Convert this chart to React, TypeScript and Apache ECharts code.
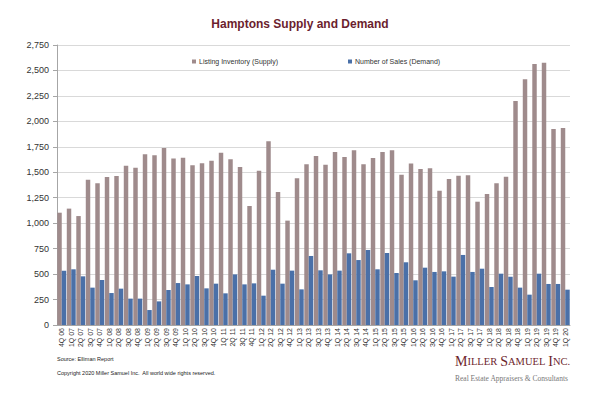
import React, { useEffect, useRef } from "react";
import * as echarts from "echarts";

const quarters = [
  "4Q 06", "1Q 07", "2Q 07", "3Q 07", "4Q 07", "1Q 08", "2Q 08", "3Q 08", "4Q 08",
  "1Q 09", "2Q 09", "3Q 09", "4Q 09", "1Q 10", "2Q 10", "3Q 10", "4Q 10",
  "1Q 11", "2Q 11", "3Q 11", "4Q 11", "1Q 12", "2Q 12", "3Q 12", "4Q 12",
  "1Q 13", "2Q 13", "3Q 13", "4Q 13", "1Q 14", "2Q 14", "3Q 14", "4Q 14",
  "1Q 15", "2Q 15", "3Q 15", "4Q 15", "1Q 16", "2Q 16", "3Q 16", "4Q 16",
  "1Q 17", "2Q 17", "3Q 17", "4Q 17", "1Q 18", "2Q 18", "3Q 18", "4Q 18",
  "1Q 19", "2Q 19", "3Q 19", "4Q 19", "1Q 20",
];

const supply = [
  1103, 1143, 1070, 1427, 1391, 1453, 1463, 1565, 1545, 1676, 1666, 1738, 1636,
  1643, 1568, 1588, 1614, 1692, 1627, 1552, 1169, 1516, 1804, 1306, 1025, 1441,
  1578, 1660, 1575, 1699, 1650, 1716, 1578, 1640, 1699, 1716, 1476, 1585, 1532,
  1539, 1319, 1434, 1467, 1470, 1211, 1287, 1391, 1457, 2200, 2413, 2563, 2576,
  1925, 1935,
];

const demand = [
  534, 547, 478, 367, 442, 314, 357, 259, 259, 147, 232, 344, 412, 399, 481, 360,
  406, 311, 497, 399, 409, 288, 543, 406, 534, 350, 678, 537, 497, 534, 704, 638,
  737, 547, 707, 511, 616, 439, 563, 521, 527, 475, 688, 521, 553, 373, 504, 475,
  367, 298, 504, 403, 403, 347,
];

const supplyName = "Listing Inventory (Supply)";
const demandName = "Number of Sales (Demand)";

export default function App() {
  const ref = useRef<HTMLDivElement>(null);
  useEffect(() => {
    if (!ref.current) return;
    const chart = echarts.init(ref.current, null, { renderer: "svg" });
    const font = "'Liberation Sans', Arial, sans-serif";
    const serif = "'Liberation Serif', 'DejaVu Serif', serif";
    const legendText = { fontSize: 7, color: "#333", fontFamily: font, padding: [0, 0, 0, -2] };
    chart.setOption({
      animation: false,
      backgroundColor: "#ffffff",
      textStyle: { fontFamily: font },
      title: {
        text: "Hamptons Supply and Demand",
        left: "center",
        top: 13,
        textStyle: { fontSize: 12, fontWeight: "bold", color: "#6b1e2e", fontFamily: font },
      },
      legend: [
        {
          data: [supplyName],
          left: 187,
          top: 53,
          icon: "rect",
          itemWidth: 4,
          itemHeight: 4,
          itemGap: 2,
          textStyle: legendText,
        },
        {
          data: [demandName],
          left: 343,
          top: 53,
          icon: "rect",
          itemWidth: 4,
          itemHeight: 4,
          itemGap: 2,
          textStyle: legendText,
        },
      ],
      grid: { left: 57, right: 30, top: 45, bottom: 72, containLabel: false },
      xAxis: {
        type: "category",
        data: quarters,
        axisLine: { show: true, lineStyle: { color: "#a6a6a6", width: 1 } },
        axisTick: { show: false },
        axisLabel: {
          interval: 0,
          rotate: 90,
          fontSize: 7,
          color: "#333",
          margin: 3,
          fontFamily: font,
        },
      },
      yAxis: {
        type: "value",
        min: 0,
        max: 2750,
        interval: 250,
        axisLine: { show: true, lineStyle: { color: "#a6a6a6", width: 1 } },
        axisTick: { show: true, length: 4, lineStyle: { color: "#a6a6a6" } },
        splitLine: { show: true, lineStyle: { color: "#d9d9d9", width: 1 } },
        axisLabel: {
          fontSize: 9,
          color: "#333",
          margin: 8,
          fontFamily: font,
          formatter: (v: number) => v.toLocaleString("en-US"),
        },
      },
      series: [
        {
          name: supplyName,
          type: "bar",
          data: supply,
          barGap: "0%",
          barCategoryGap: "6%",
          itemStyle: { color: "#9f8b8c" },
        },
        {
          name: demandName,
          type: "bar",
          data: demand,
          barGap: "0%",
          barCategoryGap: "6%",
          itemStyle: { color: "#4a70a8" },
        },
      ],
      graphic: [
        {
          type: "text",
          left: 57,
          top: 356,
          style: { text: "Source: Elliman Report", fontSize: 5.5, fill: "#222", fontFamily: font },
        },
        {
          type: "text",
          left: 57,
          top: 370,
          style: {
            text: "Copyright 2020 Miller Samuel Inc.  All world wide rights reserved.",
            fontSize: 5.5,
            fill: "#222",
            fontFamily: font,
          },
        },
        {
          type: "text",
          left: 455,
          top: 354,
          style: {
            text: "{a|M}{b|ILLER} {a|S}{b|AMUEL} {a|I}{b|NC.}",
            fill: "#6e1f2d",
            fontFamily: serif,
            rich: {
              a: { fontSize: 14, fontFamily: serif, fill: "#6e1f2d" },
              b: { fontSize: 10.5, fontFamily: serif, fill: "#6e1f2d" },
            },
          },
        },
        {
          type: "text",
          left: 455,
          top: 374,
          style: {
            text: "Real Estate Appraisers & Consultants",
            fontSize: 7.5,
            fill: "#777",
            fontFamily: serif,
          },
        },
      ],
    });
    return () => chart.dispose();
  }, []);
  return (
    <div
      ref={ref}
      style={{ position: "fixed", left: 0, top: 0, width: 600, height: 397 }}
    />
  );
}
